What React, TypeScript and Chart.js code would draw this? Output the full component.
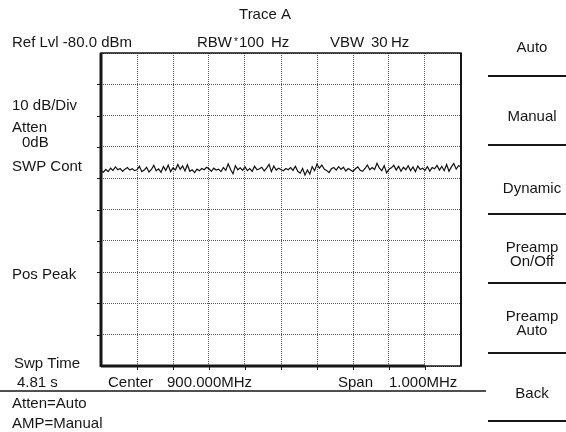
import React, { useEffect, useRef } from "react";
import { Chart, registerables } from "chart.js";

Chart.register(...registerables);

// Sweep settings (MHz) and amplitude scale (dBm)
const centerMHz = 900.0;
const spanMHz = 1.0;
const refLevel = -80;
const dbPerDiv = 10;
const divisions = 10;

// Trace A noise floor readings (dBm), left to right across the sweep
const traceDbm = [
  -117.6, -118.1, -117.2, -117.9, -116.8, -117.5, -116.4, -117.3, -116.9, -117.8,
  -117.1, -116.6, -117.4, -117.0, -117.6, -117.3, -116.2, -117.9, -117.4, -116.5,
  -118.0, -117.2, -115.9, -117.6, -117.0, -118.1, -116.3, -117.5, -115.8, -117.9,
  -116.7, -117.4, -115.6, -117.2, -116.1, -117.7, -115.7, -117.8, -117.3, -118.2,
  -117.1, -117.6, -116.9, -117.3, -116.5, -117.0, -117.8, -116.8, -117.4, -117.1,
  -117.9, -116.6, -117.5, -115.4, -117.2, -118.6, -116.0, -117.3, -116.7, -117.5,
  -116.4, -117.6, -116.9, -117.8, -116.2, -117.3, -117.0, -116.5, -117.7, -116.8,
  -115.6, -117.9, -116.1, -117.4, -116.8, -117.2, -117.6, -116.9, -117.3, -116.6,
  -117.5, -116.2, -117.8, -118.4, -116.9, -119.0, -117.4, -118.7, -116.3, -117.6,
  -115.5, -116.8, -115.8, -117.1, -117.5, -118.2, -117.0, -116.6, -117.4, -116.3,
  -117.2, -116.5, -117.7, -116.9, -117.4, -117.9, -117.0, -116.4, -117.5, -117.8,
  -116.9, -115.8, -117.3, -116.6, -117.2, -115.2, -116.8, -117.6, -116.0, -118.3,
  -117.1, -116.7, -115.9, -117.4, -116.2, -117.8, -116.5, -117.3, -116.0, -117.6,
  -116.4, -117.9, -116.1, -117.2, -116.8, -117.5, -116.3, -117.7, -116.6, -117.0,
  -115.9, -117.4, -116.2, -117.6, -115.6, -117.8, -116.4, -115.3, -117.1, -116.0,
  -116.3,
];

// Screen annotations
const titleText = "Trace A";
const refText = "Ref Lvl -80.0 dBm";
const leftLabels = ["10 dB/Div", "Atten", "0dB", "SWP Cont", "Pos Peak", "Swp Time", "4.81 s"];
const statusLabels = ["Atten=Auto", "AMP=Manual"];
const softKeys = [["Auto"], ["Manual"], ["Dynamic"], ["Preamp", "On/Off"], ["Preamp", "Auto"], ["Back"]];

const FONT = '15px "Liberation Sans", Arial, Helvetica, sans-serif';
const INK = "#161616";

export default function App() {
  const ref = useRef<HTMLCanvasElement | null>(null);

  useEffect(() => {
    const canvas = ref.current;
    if (!canvas) return;
    const startMHz = centerMHz - spanMHz / 2;
    const stopMHz = centerMHz + spanMHz / 2;
    const bottomDb = refLevel - dbPerDiv * divisions;
    const n = traceDbm.length;
    const points = traceDbm.map((v, i) => ({ x: startMHz + (spanMHz * i) / (n - 1), y: v }));

    const overlay = {
      id: "overlay",
      afterDraw(chart: any) {
        const ctx = chart.ctx as CanvasRenderingContext2D;
        const a = chart.chartArea;
        const xs = chart.scales.x;
        const ys = chart.scales.y;
        ctx.save();
        ctx.strokeStyle = INK;
        ctx.fillStyle = INK;
        ctx.setLineDash([]);

        // frame
        ctx.lineWidth = 1.5;
        ctx.strokeRect(a.left, a.top, a.right - a.left, a.bottom - a.top);
        // thick left border
        ctx.lineWidth = 3;
        ctx.beginPath();
        ctx.moveTo(a.left, a.top);
        ctx.lineTo(a.left, a.bottom + 1);
        ctx.stroke();
        // thick bottom (sweep) bar
        ctx.beginPath();
        ctx.moveTo(a.left, a.bottom);
        ctx.lineTo(xs.getPixelForValue(startMHz + spanMHz * 0.9), a.bottom);
        ctx.stroke();
        // right border slightly heavier
        ctx.lineWidth = 2;
        ctx.beginPath();
        ctx.moveTo(a.right, a.top);
        ctx.lineTo(a.right, a.bottom);
        ctx.stroke();

        // outside tick marks
        ctx.lineWidth = 1;
        for (let k = 1; k < divisions; k++) {
          const px = Math.round(xs.getPixelForValue(startMHz + (spanMHz * k) / divisions)) + 0.5;
          ctx.beginPath();
          ctx.moveTo(px, a.bottom);
          ctx.lineTo(px, a.bottom + 4);
          ctx.stroke();
          const py = Math.round(ys.getPixelForValue(refLevel - dbPerDiv * k)) + 0.5;
          ctx.beginPath();
          ctx.moveTo(a.left - 4, py);
          ctx.lineTo(a.left, py);
          ctx.stroke();
        }

        // status divider line
        ctx.lineWidth = 1.5;
        ctx.beginPath();
        ctx.moveTo(0, 391);
        ctx.lineTo(486, 391);
        ctx.stroke();

        // softkey separators
        ctx.lineWidth = 2;
        [76, 145, 214, 283, 353, 421].forEach((y) => {
          ctx.beginPath();
          ctx.moveTo(488, y);
          ctx.lineTo(566, y);
          ctx.stroke();
        });

        // texts
        ctx.font = FONT;
        ctx.textBaseline = "alphabetic";
        ctx.textAlign = "center";
        ctx.fillText(titleText, 265, 19);
        ctx.textAlign = "left";
        ctx.fillText(refText, 12, 47);
        ctx.fillText("RBW", 197, 47);
        ctx.font = '10px "Liberation Sans", Arial, sans-serif';
        ctx.fillText("*", 234, 45);
        ctx.font = FONT;
        ctx.fillText("100", 239, 47);
        ctx.fillText("Hz", 271, 47);
        ctx.fillText("VBW", 330, 47);
        ctx.fillText("30", 371, 47);
        ctx.fillText("Hz", 391, 47);

        const leftPos: [number, number][] = [[12, 110], [12, 132], [22, 147], [12, 171], [12, 279], [14, 368], [17, 387]];
        leftLabels.forEach((t, i) => ctx.fillText(t, leftPos[i][0], leftPos[i][1]));
        ctx.fillText(statusLabels[0], 12, 408);
        ctx.fillText(statusLabels[1], 12, 428);

        ctx.fillText("Center", 108, 387);
        ctx.fillText(centerMHz.toFixed(3) + "MHz", 167, 387);
        ctx.fillText("Span", 338, 387);
        ctx.fillText(spanMHz.toFixed(3) + "MHz", 389, 387);

        ctx.textAlign = "center";
        const keyBase = [52, 121, 193, 252, 321, 398];
        softKeys.forEach((lines, i) => {
          lines.forEach((t, j) => ctx.fillText(t, 532, keyBase[i] + j * 14));
        });
        ctx.restore();
      },
    };

    const chart = new Chart(canvas, {
      type: "line",
      data: {
        datasets: [
          {
            data: points,
            borderColor: "#111",
            borderWidth: 1.2,
            pointRadius: 0,
            tension: 0,
            fill: false,
          },
        ],
      },
      options: {
        responsive: false,
        animation: false,
        devicePixelRatio: 1,
        layout: { padding: { left: 101, top: 53, right: 105, bottom: 66 } },
        plugins: { legend: { display: false }, tooltip: { enabled: false }, title: { display: false } },
        scales: {
          x: {
            type: "linear",
            min: startMHz,
            max: stopMHz,
            ticks: { display: false, stepSize: spanMHz / divisions },
            grid: { color: "#555555", lineWidth: 1, drawTicks: false },
            border: { display: false, dash: [1, 1] },
            afterFit: (s: any) => {
              s.height = 0;
            },
          },
          y: {
            type: "linear",
            min: bottomDb,
            max: refLevel,
            ticks: { display: false, stepSize: dbPerDiv },
            grid: { color: "#555555", lineWidth: 1, drawTicks: false },
            border: { display: false, dash: [1, 1] },
            afterFit: (s: any) => {
              s.width = 0;
            },
          },
        },
      },
      plugins: [overlay],
    });
    return () => chart.destroy();
  }, []);

  return (
    <div style={{ position: "fixed", left: 0, top: 0, width: 566, height: 432, background: "#fff" }}>
      <canvas ref={ref} width={566} height={432} style={{ display: "block", width: 566, height: 432 }} />
    </div>
  );
}
